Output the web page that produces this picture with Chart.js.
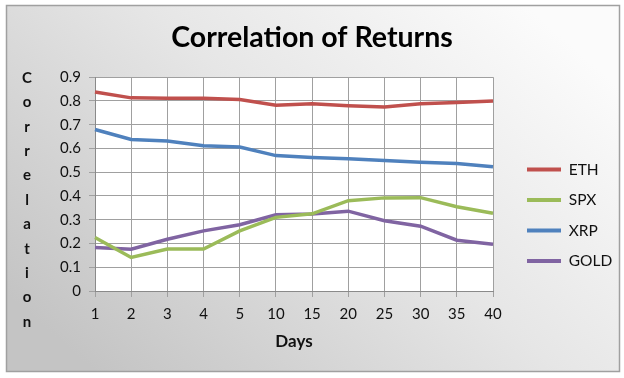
<!DOCTYPE html>
<html><head><meta charset="utf-8">
<script src="https://cdn.jsdelivr.net/npm/chart.js@4/dist/chart.umd.min.js"></script>
<style>html,body{margin:0;padding:0;background:#fff}#wrap{width:624px;height:378px}</style>
</head><body><div id="wrap"><canvas id="c" width="624" height="378"></canvas></div>
<script>
const days = ['1','2','3','4','5','10','15','20','25','30','35','40'];
const ETH  = [0.838,0.813,0.811,0.811,0.806,0.782,0.788,0.780,0.775,0.788,0.794,0.800];
const SPX  = [0.225,0.141,0.177,0.177,0.253,0.310,0.325,0.380,0.392,0.393,0.355,0.327];
const XRP  = [0.680,0.638,0.631,0.611,0.606,0.570,0.562,0.557,0.549,0.542,0.537,0.523];
const GOLD = [0.183,0.176,0.218,0.253,0.279,0.321,0.324,0.336,0.296,0.273,0.214,0.197];
const seriesNames = ['ETH','SPX','XRP','GOLD'];
const seriesColors = ['#C0504D','#9BBB59','#4F81BD','#8064A2'];
const yTitleLetters = ['C','o','r','r','e','l','a','t','i','o','n'];
const FONT = 'Lato';

const bgPlugin = {
  id:'bg',
  beforeDraw(chart){
    const ctx = chart.ctx;
    ctx.save();
    ctx.fillStyle = '#ffffff';
    ctx.fillRect(0,0,chart.width,chart.height);
    const g = ctx.createLinearGradient(520, 0, 150, 420);
    g.addColorStop(0,'#fbfbfb');
    g.addColorStop(0.45,'#e6e6e6');
    g.addColorStop(1,'#c4c4c4');
    ctx.fillStyle = g;
    ctx.fillRect(6,5,614,367);
    ctx.strokeStyle = '#a0a0a0';
    ctx.lineWidth = 1.5;
    ctx.strokeRect(6.5,5.5,613,366);
    const a = chart.chartArea;
    ctx.fillStyle = '#ffffff';
    ctx.fillRect(a.left,a.top,a.right-a.left,a.bottom-a.top);
    ctx.restore();
  },
  afterDraw(chart){
    const ctx = chart.ctx;
    ctx.save();
    ctx.font = 'bold 15px ' + FONT;
    ctx.fillStyle = '#111';
    ctx.textAlign = 'center';
    ctx.textBaseline = 'middle';
    yTitleLetters.forEach((ch,i)=>ctx.fillText(ch, 27, 78 + i*24.4));
    ctx.restore();
  }
};

new Chart(document.getElementById('c'), {
  type:'line',
  data:{
    labels: days,
    datasets: [ETH,SPX,XRP,GOLD].map((d,i)=>({
      label: seriesNames[i], data: d,
      borderColor: seriesColors[i], backgroundColor: seriesColors[i],
      borderWidth: 3.5, pointRadius: 0, tension: 0, fill:false
    }))
  },
  options:{
    responsive:false, animation:false,
    layout:{padding:{left:12,right:12,top:0,bottom:26.6}},
    plugins:{
      title:{display:true,text:'Correlation of Returns',color:'#000',
        font:{family:FONT,size:28.5,weight:'bold'},padding:{top:21,bottom:22}},
      legend:{position:'right',align:'center',
        title:{display:true,text:' ',font:{size:1},padding:{top:78,bottom:0}},
        labels:{boxWidth:34,boxHeight:4,padding:15,color:'#111',
          font:{family:FONT,size:15.5},
          generateLabels:(chart)=>Chart.defaults.plugins.legend.labels.generateLabels(chart).map(l=>({...l,lineWidth:0}))
        }},
      tooltip:{enabled:false}
    },
    scales:{
      x:{
        grid:{color:'#a0a0a0',lineWidth:1,tickLength:6,drawOnChartArea:true},
        border:{color:'#8a8a8a',width:1},
        ticks:{color:'#111',font:{family:FONT,size:15},padding:8,maxRotation:0,autoSkip:false},
        title:{display:true,text:'Days',color:'#111',font:{family:FONT,size:17,weight:'bold'},padding:{top:0,bottom:0}}
      },
      y:{
        min:0,max:0.9,
        grid:{color:'#a0a0a0',lineWidth:1,tickLength:6},
        border:{color:'#8a8a8a',width:1},
        ticks:{stepSize:0.1,color:'#111',font:{family:FONT,size:15},padding:8,
          callback:(v)=>Number(v.toFixed(1)).toString()},
        afterFit:(s)=>{s.width=83;}
      },
      spacer:{
        type:'linear',position:'right',display:true,
        grid:{display:false,drawTicks:false},border:{display:false},ticks:{display:false},
        afterFit:(s)=>{s.width=19;}
      }
    }
  },
  plugins:[bgPlugin]
});
</script></body></html>
